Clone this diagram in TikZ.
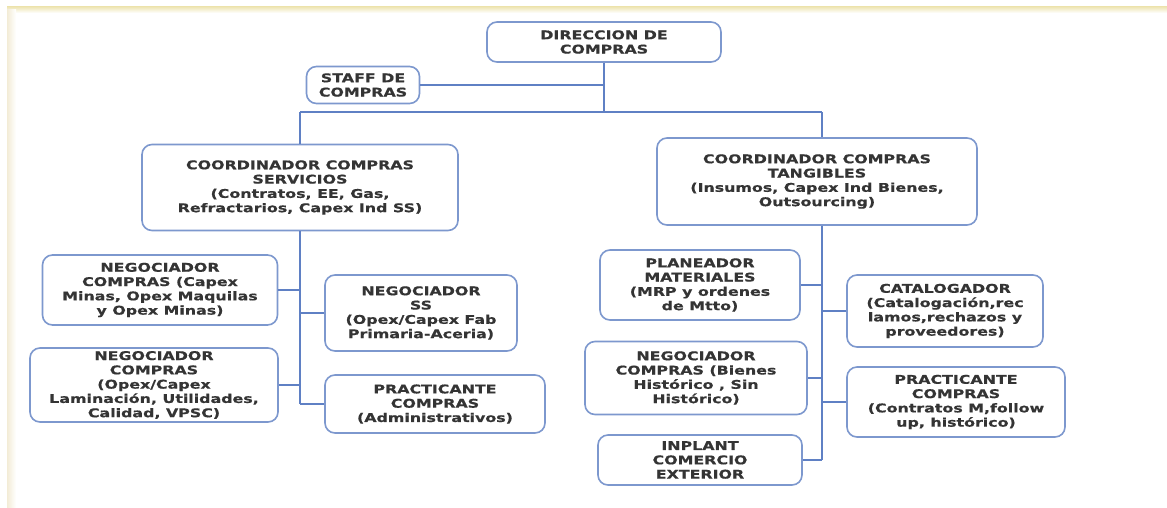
\documentclass[tikz,border=0pt]{standalone}
\usepackage{fontspec}
\newfontfamily\boxfont[FakeStretch=1.32,FakeBold=0.6]{DejaVu Sans}
\definecolor{boxline}{RGB}{125,152,206}
\definecolor{linkline}{RGB}{95,128,196}
\definecolor{boxtext}{RGB}{52,52,52}
\definecolor{frametop}{RGB}{236,226,170}
\definecolor{frameleft}{RGB}{243,236,214}
\tikzset{
  orgbox/.style={draw=boxline, line width=1.6pt, rounded corners=10pt, fill=white,
    align=center, inner sep=0pt, text=boxtext,
    font=\boxfont\bfseries\fontsize{12}{14.3}\selectfont},
  link/.style={draw=linkline, line width=1.5pt}
}
\begin{document}
\begin{tikzpicture}[x=1pt,y=-1pt]
\useasboundingbox (0,0) rectangle (1167,507);
\fill[white] (0,0) rectangle (1167,507);
% page frame bands
\shade[top color=frametop, bottom color=white] (7,6) rectangle (1167,13);
\shade[left color=frameleft, right color=white] (7,9) rectangle (16,507);

% top level
\node[orgbox, minimum width=234pt, minimum height=40pt] (dir) at (604,42) {DIRECCION DE\\COMPRAS};
\node[orgbox, minimum width=113pt, minimum height=37pt] (staff) at (363,85) {STAFF DE\\COMPRAS};

% coordinators
\node[orgbox, minimum width=316pt, minimum height=86pt] (cserv) at (300,187.5)
  {COORDINADOR COMPRAS\\SERVICIOS\\(Contratos, EE, Gas,\\Refractarios, Capex Ind SS)};
\node[orgbox, minimum width=320pt, minimum height=87pt] (ctang) at (817,181.5)
  {COORDINADOR COMPRAS\\TANGIBLES\\(Insumos, Capex Ind Bienes,\\Outsourcing)};

% services branch
\node[orgbox, minimum width=235pt, minimum height=70pt] (neg1) at (160,290)
  {NEGOCIADOR\\COMPRAS (Capex\\Minas, Opex Maquilas\\y Opex Minas)};
\node[orgbox, minimum width=248pt, minimum height=74pt] (neg2) at (154,385)
  {NEGOCIADOR\\COMPRAS\\(Opex/Capex\\Laminación, Utilidades,\\Calidad, VPSC)};
\node[orgbox, minimum width=192pt, minimum height=76pt] (negss) at (421,313)
  {NEGOCIADOR\\SS\\(Opex/Capex Fab\\Primaria-Aceria)};
\node[orgbox, minimum width=220pt, minimum height=58pt] (pracl) at (435,404)
  {PRACTICANTE\\COMPRAS\\(Administrativos)};

% tangibles branch
\node[orgbox, minimum width=200pt, minimum height=70pt] (plan) at (700,285)
  {PLANEADOR\\MATERIALES\\(MRP y ordenes\\de Mtto)};
\node[orgbox, minimum width=222pt, minimum height=73pt] (negb) at (696,378)
  {NEGOCIADOR\\COMPRAS (Bienes\\Histórico , Sin\\Histórico)};
\node[orgbox, minimum width=204pt, minimum height=50pt] (inpl) at (700,460)
  {INPLANT\\COMERCIO\\EXTERIOR};
\node[orgbox, minimum width=196pt, minimum height=72pt] (cat) at (945,311)
  {CATALOGADOR\\(Catalogación,rec\\lamos,rechazos y\\proveedores)};
\node[orgbox, minimum width=218pt, minimum height=70pt] (pracr) at (956,402)
  {PRACTICANTE\\COMPRAS\\(Contratos M,follow\\up, histórico)};

% trunk coordinates
\coordinate (bus) at (604,112);
\coordinate (lx) at (300,0);
\coordinate (rx) at (822,0);

% top connectors
\draw[link] (dir.south) -- (bus);
\draw[link] (staff.east) -- (staff.east -| dir.south);
\draw[link] (lx |- bus) -- (rx |- bus);
\draw[link] (lx |- bus) -- (lx |- cserv.north);
\draw[link] (rx |- bus) -- (rx |- ctang.north);
% services trunk
\draw[link] (lx |- cserv.south) -- (lx |- pracl.west);
\draw[link] (neg1.east) -- (neg1.east -| lx);
\draw[link] (neg2.east) -- (neg2.east -| lx);
\draw[link] (negss.west) -- (negss.west -| lx);
\draw[link] (pracl.west) -- (pracl.west -| lx);
% tangibles trunk
\draw[link] (rx |- ctang.south) -- (rx |- inpl.east);
\draw[link] (plan.east) -- (plan.east -| rx);
\draw[link] (negb.east) -- (negb.east -| rx);
\draw[link] (inpl.east) -- (inpl.east -| rx);
\draw[link] (cat.west) -- (cat.west -| rx);
\draw[link] (pracr.west) -- (pracr.west -| rx);
\end{tikzpicture}
\end{document}
